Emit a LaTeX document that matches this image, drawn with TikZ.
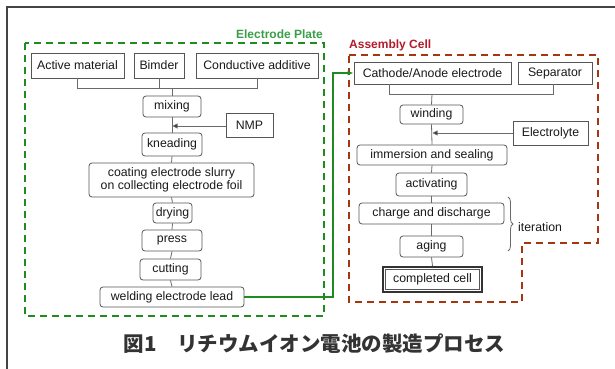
\documentclass[tikz,border=0pt]{standalone}
\usepackage{fontspec}
\setmainfont{Liberation Sans}
\newfontfamily\cjkfont{Noto Sans CJK JP}
\usetikzlibrary{arrows.meta,decorations.pathreplacing}
\definecolor{boxline}{HTML}{555555}
\definecolor{conn}{HTML}{6A6A6A}
\definecolor{epgreen}{HTML}{1E8C1E}
\definecolor{eplabel}{HTML}{3A9E48}
\definecolor{acred}{HTML}{A5360F}
\definecolor{aclabel}{HTML}{B31B2B}
\definecolor{captxt}{HTML}{333333}
\definecolor{frame}{HTML}{444444}
\begin{document}
\begin{tikzpicture}[x=1pt,y=-1pt,
  every node/.style={font=\fontsize{12.3}{12.5}\selectfont, inner sep=0pt, text=black!90},
  matbox/.style={draw=boxline, line width=0.8pt, minimum height=24pt},
  procbox/.style={draw=boxline, line width=0.8pt, rounded corners=3pt, minimum height=21pt},
  link/.style={draw=conn, line width=0.8pt},
  feed/.style={draw=conn, line width=0.8pt, -{Triangle[length=5pt,width=5pt,fill=black!85]}},
  epdash/.style={draw=epgreen, line width=2pt, dash pattern=on 7pt off 5pt},
  acdash/.style={draw=acred, line width=2.5pt, dash pattern=on 7pt off 5pt}]
\useasboundingbox (0,0) rectangle (615,369);
% outer frame
\draw[frame, line width=1.6pt] (7,369) -- (7,7) -- (615,7);

% ---------- Electrode Plate ----------
\draw[epdash] (25,43) rectangle (324,316);
\node[anchor=east, text=eplabel, font=\fontsize{12}{12}\selectfont\bfseries] (eplab) at (323,34) {Electrode Plate};

\node[matbox, minimum width=93pt, minimum height=25pt] (am) at (77.5,65.5) {Active material};
\node[matbox, minimum width=50pt, minimum height=25pt] (bim) at (159,65.5) {Bimder};
\node[matbox, minimum width=122pt, minimum height=25pt] (ca) at (257,65.5) {Conductive additive};
\node[procbox, minimum width=58pt] (mix) at (172,106.5) {mixing};
\node[matbox, minimum width=47pt, minimum height=24pt] (nmp) at (249.5,125) {NMP};
\node[procbox, minimum width=60pt, minimum height=23pt] (knead) at (172,144.5) {kneading};
\node[procbox, minimum width=165pt, minimum height=34pt, align=center] (coat) at (171.5,180) {coating electrode slurry\\on collecting electrode foil};
\node[procbox, minimum width=39pt, minimum height=20pt] (dry) at (172.5,213) {drying};
\node[procbox, minimum width=60pt] (press) at (172,240.5) {press};
\node[procbox, minimum width=61pt] (cut) at (170.5,269.5) {cutting};
\node[procbox, minimum width=144pt, minimum height=20pt] (weld) at (172,297) {welding electrode lead};

\coordinate (jl) at (172,88);
\draw[link] (am.south) |- (jl);
\draw[link] (ca.south) |- (jl);
\draw[link] (bim.south) -- (bim.south |- jl);
\draw[link] (jl) -- (mix.north);
\draw[link] (mix.south) -- (knead.north);
\coordinate (nmpj) at (172.5,126);
\draw[feed] (nmp.west |- nmpj) -- (nmpj);
\draw[link] (knead.south) -- (coat.north);
\draw[link] (coat.south) -- (dry.north);
\draw[link] (dry.south) -- (press.north);
\draw[link] (press.south) -- (cut.north);
\draw[link] (cut.south) -- (weld.north);

% ---------- Assembly Cell ----------
\draw[acdash] (349,55) -- (598,55) -- (598,243) -- (522,243) -- (522,302) -- (349,302) -- cycle;
\node[anchor=west, text=aclabel, font=\fontsize{12}{12}\selectfont\bfseries] (aclab) at (349,45) {Assembly Cell};

\node[matbox, minimum width=157pt, minimum height=22pt] (cath) at (432.5,73) {Cathode/Anode electrode};
\node[matbox, minimum width=74pt, minimum height=22pt] (sep) at (555,73) {Separator};
\node[procbox, minimum width=63pt, minimum height=19pt] (wind) at (431.5,114.5) {winding};
\node[matbox, minimum width=75pt, minimum height=24pt] (elec) at (550.5,133) {Electrolyte};
\node[procbox, minimum width=150pt, minimum height=20pt] (imm) at (432,155) {immersion and sealing};
\node[procbox, minimum width=71pt, minimum height=23pt] (act) at (431.5,184.5) {activating};
\node[procbox, minimum width=145pt, minimum height=21pt] (chg) at (431.5,213.5) {charge and discharge};
\node[procbox, minimum width=63pt, minimum height=21pt] (age) at (431.5,246.5) {aging};
\node[draw=black!80, line width=2pt, minimum width=99pt, minimum height=25pt] (done) at (432.5,279.5) {};
\node[draw=boxline, line width=0.8pt, minimum width=94pt, minimum height=20pt] (donein) at (done.center) {completed cell};

\coordinate (jr) at (432,94);
\coordinate (jrl) at (389,94);
\draw[link] (jrl |- cath.south) -- (jrl) -- (jr);
\draw[link] (sep.south -| 553,0) |- (jr);
\draw[link] (jr) -- (wind.north);
\draw[link] (wind.south) -- (imm.north);
\coordinate (elj) at (432.5,133);
\draw[feed] (elec.west) -- (elj);
\draw[link] (imm.south) -- (act.north);
\draw[link] (act.south) -- (chg.north);
\draw[link] (chg.south) -- (age.north);
\draw[link] (age.south) -- (done.north);

\draw[conn, line width=0.8pt, decorate, decoration={brace, amplitude=5pt}] (508,197) -- (508,251);
\node[anchor=west] (iter) at (518,227) {iteration};

% green link
\draw[epgreen, line width=1.6pt, -{Latex[length=6pt,width=5pt]}] (weld.east) -- (333,297) -- (333,73) -- (cath.west);

% caption
\node[text=captxt, font=\cjkfont\bfseries\fontsize{20.5}{20.5}\selectfont] (cap) at (314.5,344) {図1　リチウムイオン電池の製造プロセス};
\end{tikzpicture}
\end{document}
